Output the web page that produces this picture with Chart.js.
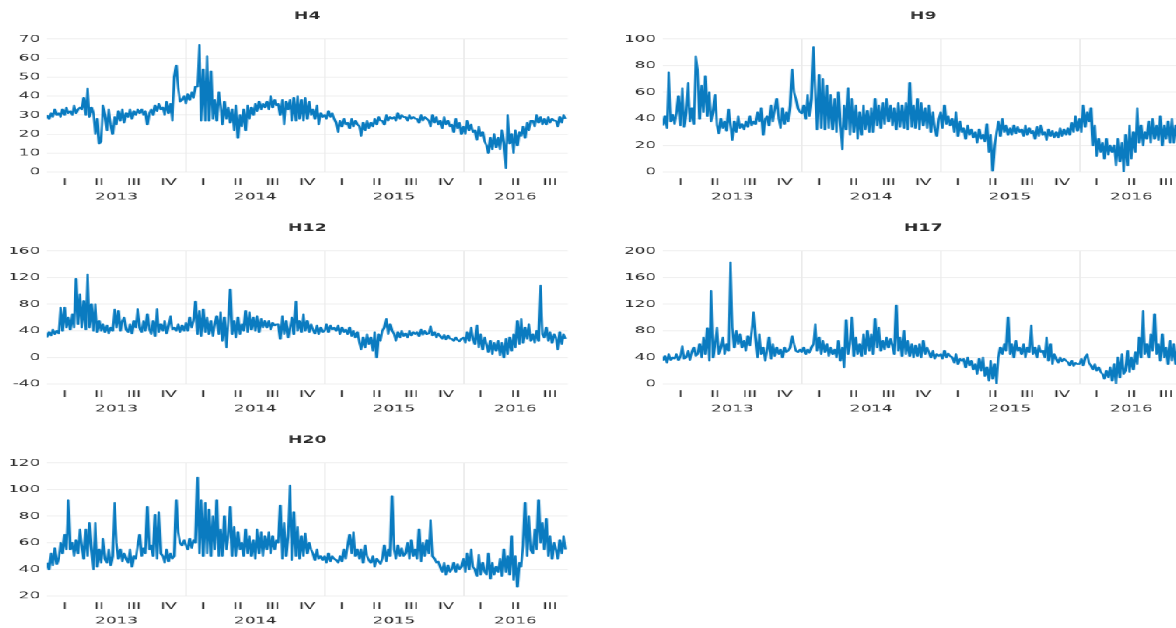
<!DOCTYPE html>
<html>
<head>
<meta charset="utf-8">
<script src="https://cdn.jsdelivr.net/npm/chart.js@4/dist/chart.umd.min.js"></script>
<style>
  html, body { margin: 0; padding: 0; background: #fff; overflow: hidden; width: 1176px; height: 628px; }
  /* the reference is drawn horizontally stretched, so the whole stage is widened */
  #stage { position: absolute; left: 0; top: 0; width: 700px; height: 628px; transform: scaleX(1.75); transform-origin: 0 0; }
  .panel { position: absolute; width: 332px; height: 204px; }
</style>
</head>
<body>
<div id="stage">
  <div class="panel" style="left:0;top:0"><canvas id="c-h4" width="332" height="204"></canvas></div>
  <div class="panel" style="left:352.17px;top:0"><canvas id="c-h9" width="332" height="204"></canvas></div>
  <div class="panel" style="left:0;top:212px"><canvas id="c-h12" width="332" height="204"></canvas></div>
  <div class="panel" style="left:352.17px;top:212px"><canvas id="c-h17" width="332" height="204"></canvas></div>
  <div class="panel" style="left:0;top:424px"><canvas id="c-h20" width="332" height="204"></canvas></div>
</div>
<script>
// ── Axis data ──
const START_YEAR = 2013;
const PER_YEAR   = 72;          // one value every ~5 days
const X_MIN      = 2013;
const X_MAX      = 2016.75;
const YEARS      = [2013, 2014, 2015, 2016];
const QUARTERS   = ['I', 'II', 'III', 'IV'];

// ── Series (Jan 2013 .. Sep 2016, 6 values a month) ──
const h4 = [
  30,28,31,29,33,30, 31,29,33,30,34,31, 32,30,35,31,33,34,
  33,39,30,44,29,34, 31,20,28,15,16,35, 30,22,33,25,20,29,
  25,32,27,33,26,31, 29,33,28,32,30,33, 31,33,30,32,25,31,
  33,30,35,32,36,33, 34,30,37,31,36,27, 50,56,44,37,38,40,
  36,41,38,42,39,45, 45,67,27,54,27,61, 27,53,28,38,27,42,
  35,25,37,28,34,26, 33,22,35,18,30,24, 33,22,35,28,34,30,
  36,32,37,33,36,34, 37,33,40,34,38,35, 36,30,38,25,37,33,
  38,27,39,27,40,28, 38,27,39,28,37,30, 33,28,35,25,31,29,
  30,28,32,29,31,28, 26,21,27,24,28,25, 26,23,28,24,27,25,
  24,19,26,22,27,23, 26,24,28,25,29,27, 27,25,30,27,29,28,
  29,27,31,28,30,29, 29,27,30,28,29,28, 28,26,30,27,29,28,
  27,24,30,26,29,25, 27,23,29,25,27,24, 25,21,28,23,26,20,
  24,20,27,22,25,21, 22,17,24,19,21,16, 14,10,18,12,20,13,
  18,12,22,15,2,30,  15,20,10,22,14,21, 19,24,18,26,22,27,
  27,24,30,26,29,25, 28,25,29,26,28,27, 27,24,29,26,30,28
];

const h9 = [
  35,42,33,75,38,43, 36,44,57,35,63,34, 45,67,38,48,36,87,
  77,40,65,45,72,42, 60,38,45,58,35,29, 40,33,38,31,47,35,
  24,38,30,42,33,36, 32,38,34,42,35,38, 36,45,38,48,28,40,
  42,35,50,38,47,55, 40,33,48,36,45,38, 50,77,60,55,48,45,
  44,50,40,58,42,55, 94,60,32,73,33,70, 32,65,33,58,32,55,
  30,60,35,17,50,32, 63,28,55,30,50,25, 45,28,50,32,46,30,
  48,30,55,35,50,33, 52,36,55,38,50,35, 48,32,52,34,50,33,
  52,32,67,34,50,33, 55,32,52,35,48,33, 50,30,45,33,27,40,
  45,33,50,36,42,35, 40,30,45,27,38,30, 33,25,35,28,32,26,
  30,22,32,25,28,23, 36,15,28,1,20,30,  38,27,40,30,35,28,
  33,28,35,29,34,30, 32,27,35,28,33,29, 31,25,34,27,35,28,
  30,24,32,27,31,26, 30,26,33,27,32,28, 33,28,37,30,42,31,
  40,30,50,34,45,38, 48,20,35,12,25,15, 22,10,25,13,20,15,
  20,5,25,8,22,0,    28,5,35,10,30,15,  48,22,35,20,30,25,
  38,22,40,25,35,24, 42,20,35,25,38,22, 40,22,35,25,30,23
];

const h12 = [
  30,38,33,42,35,40, 36,75,40,75,45,60, 42,65,45,118,50,95,
  45,85,42,125,45,80, 40,80,38,55,40,50, 38,48,36,45,40,72,
  45,70,40,55,60,42, 38,50,36,55,45,73, 45,38,55,40,65,42,
  35,55,32,73,38,50, 40,55,36,48,62,42, 45,40,50,38,48,40,
  52,40,60,45,55,84, 35,70,32,72,38,60, 35,55,32,50,62,35,
  68,25,60,15,55,102, 35,55,30,60,35,50, 40,70,38,68,42,60,
  40,62,38,58,45,55, 45,55,42,52,48,50, 50,28,62,35,55,30,
  45,60,35,84,40,55, 38,65,40,55,38,50, 42,36,48,35,45,38,
  40,50,38,48,42,45, 40,48,35,45,38,42, 35,45,32,40,30,38,
  22,12,30,15,35,20, 30,10,38,0,35,25,  40,45,58,35,50,40,
  35,25,38,30,40,32, 36,30,40,33,38,35, 38,32,42,34,40,35,
  36,47,33,38,30,36, 32,28,34,27,33,28, 28,25,30,26,24,28,
  30,22,38,25,45,28, 20,48,15,35,12,30, 20,8,25,5,22,10,
  25,3,22,0,28,5,    30,10,35,15,55,20, 58,22,45,28,50,25,
  35,22,40,25,108,35, 30,45,25,38,22,35, 30,12,38,20,35,28
];

const h17 = [
  35,42,32,45,36,40, 38,45,36,42,57,38, 40,50,36,48,55,42,
  45,60,40,70,45,84, 35,140,40,60,85,45, 55,70,45,60,50,183,
  85,55,80,60,75,55, 65,50,72,58,80,108, 70,40,75,45,55,35,
  50,70,38,60,42,55, 45,52,40,55,48,50, 55,72,60,50,48,52,
  48,55,45,52,47,55, 60,90,50,70,45,65, 48,60,42,55,45,52,
  40,65,35,55,25,96, 45,60,100,42,70,45, 60,42,75,45,80,50,
  75,45,98,55,85,50, 65,52,70,55,68,58, 45,118,50,70,42,80,
  45,65,42,60,40,58, 42,60,40,65,45,55, 48,40,50,38,45,42,
  45,38,50,40,46,42, 40,32,45,30,38,35, 38,25,40,28,35,22,
  30,15,38,20,40,12, 25,5,35,8,30,0,    40,55,45,60,50,100,
  45,60,40,65,50,55, 45,60,40,55,48,88, 45,55,40,58,48,50,
  40,70,35,60,30,45, 38,32,40,34,38,35, 33,28,35,27,32,30,
  30,38,28,40,45,32, 28,22,30,20,25,18, 15,8,20,10,25,5,
  30,0,40,10,45,15,  20,50,18,40,22,48, 30,70,40,110,45,60,
  40,75,50,105,45,60, 35,75,40,55,30,65, 35,60,30,55,45,50
];

const h20 = [
  45,40,52,43,56,44, 48,60,52,66,55,92, 55,60,50,62,52,70,
  58,48,70,50,75,55, 40,75,42,55,45,63, 48,45,55,43,50,90,
  60,48,55,46,52,48, 45,55,42,50,48,58, 66,50,56,52,87,55,
  58,50,81,48,83,52, 50,45,55,46,52,48, 50,92,68,60,58,62,
  58,55,63,56,62,60, 109,52,92,50,90,52, 85,50,80,55,92,50,
  70,50,80,55,65,87, 50,72,50,68,55,60, 50,70,52,65,50,62,
  48,70,52,68,50,65, 55,68,52,65,55,62, 60,88,48,75,50,65,
  103,47,83,50,72,48, 65,50,67,52,60,55, 52,47,55,48,50,47,
  50,45,52,46,50,48, 47,45,50,46,55,48, 58,66,52,68,50,55,
  48,55,45,58,50,47, 45,50,42,48,46,44, 48,58,46,55,50,95,
  55,48,58,50,56,50, 52,60,48,62,50,55, 48,70,46,60,50,62,
  52,77,50,48,45,46, 42,38,45,36,43,38, 40,45,38,44,40,42,
  48,38,52,40,55,42, 40,35,51,36,45,38, 36,52,33,45,36,42,
  38,48,35,55,38,50, 36,65,32,50,27,45, 42,58,90,50,80,55,
  52,70,55,92,60,75, 55,78,50,65,48,60, 55,48,62,52,65,55
];

// ── Ticks built from the axis data ──
const quarterTicks = [];
YEARS.forEach(y => QUARTERS.forEach((q, i) => {
  const mid = y + i * 0.25 + 0.125;
  if (mid < X_MAX) quarterTicks.push({ value: mid, label: q });
}));
YEARS.slice(1).forEach(y => quarterTicks.push({ value: y, label: '' })); // year boundary grid lines

const yearTicks = YEARS.map(y => ({
  value: (Math.max(y, X_MIN) + Math.min(y + 1, X_MAX)) / 2,
  label: String(y),
}));

const LINE_COLOR = '#0a7bc0';
const TEXT_COLOR = '#2a2a2a';
const FONT       = 'DejaVu Sans';

function toPoints(values) {
  return values.map((v, i) => ({ x: START_YEAR + i / PER_YEAR, y: v }));
}

function makePanel(id, title, values, yMin, yMax, yStep) {
  const labelFor = (list, v) => {
    const t = list.find(t => Math.abs(t.value - v) < 1e-6);
    return t ? t.label : '';
  };

  return new Chart(document.getElementById(id), {
    type: 'line',
    data: {
      datasets: [{
        data: toPoints(values),
        borderColor: LINE_COLOR,
        borderWidth: 1.5,
        borderJoinStyle: 'round',
        pointRadius: 0,
        tension: 0,
        fill: false,
      }],
    },
    options: {
      responsive: false,
      animation: false,
      devicePixelRatio: 1.75,
      layout: { padding: { left: 0, right: 7.71, top: 0, bottom: 2 } },
      plugins: {
        legend: { display: false },
        tooltip: { enabled: false },
        title: {
          display: true,
          text: title,
          fullSize: false,
          color: TEXT_COLOR,
          font: { family: FONT, size: 10, weight: 'bold', lineHeight: 1.2 },
          padding: { top: 10, bottom: 17 },
        },
      },
      scales: {
        y: {
          min: yMin,
          max: yMax,
          afterFit: s => { s.width = 26.86; },
          ticks: { stepSize: yStep, padding: 4, color: TEXT_COLOR, font: { family: FONT, size: 9.5 } },
          grid: { color: '#f0f0f0', drawTicks: false },
          border: { display: false },
        },
        x: {
          type: 'linear',
          position: 'bottom',
          weight: 0,
          min: X_MIN,
          max: X_MAX,
          afterBuildTicks: s => { s.ticks = quarterTicks.map(t => ({ value: t.value })); },
          afterFit: s => { s.height = 16; },
          ticks: {
            autoSkip: false,
            maxRotation: 0,
            padding: 5,
            color: TEXT_COLOR,
            font: { family: FONT, size: 9.5 },
            callback: v => labelFor(quarterTicks, v),
          },
          grid: {
            drawTicks: false,
            color: ctx => (ctx.tick && Number.isInteger(ctx.tick.value)) ? '#eaeaea' : 'rgba(0,0,0,0)',
          },
          border: { display: false },
        },
        xYear: {
          type: 'linear',
          position: 'bottom',
          weight: 1,
          min: X_MIN,
          max: X_MAX,
          afterBuildTicks: s => { s.ticks = yearTicks.map(t => ({ value: t.value })); },
          afterFit: s => { s.height = 14; },
          ticks: {
            autoSkip: false,
            maxRotation: 0,
            padding: 3,
            color: TEXT_COLOR,
            font: { family: FONT, size: 9.5 },
            callback: v => labelFor(yearTicks, v),
          },
          grid: { display: false, drawTicks: false },
          border: { display: false },
        },
      },
    },
  });
}

makePanel('c-h4',  'H4',  h4,   0,  70, 10);
makePanel('c-h9',  'H9',  h9,   0, 100, 20);
makePanel('c-h12', 'H12', h12, -40, 160, 40);
makePanel('c-h17', 'H17', h17,  0, 200, 40);
makePanel('c-h20', 'H20', h20, 20, 120, 20);
</script>
</body>
</html>
